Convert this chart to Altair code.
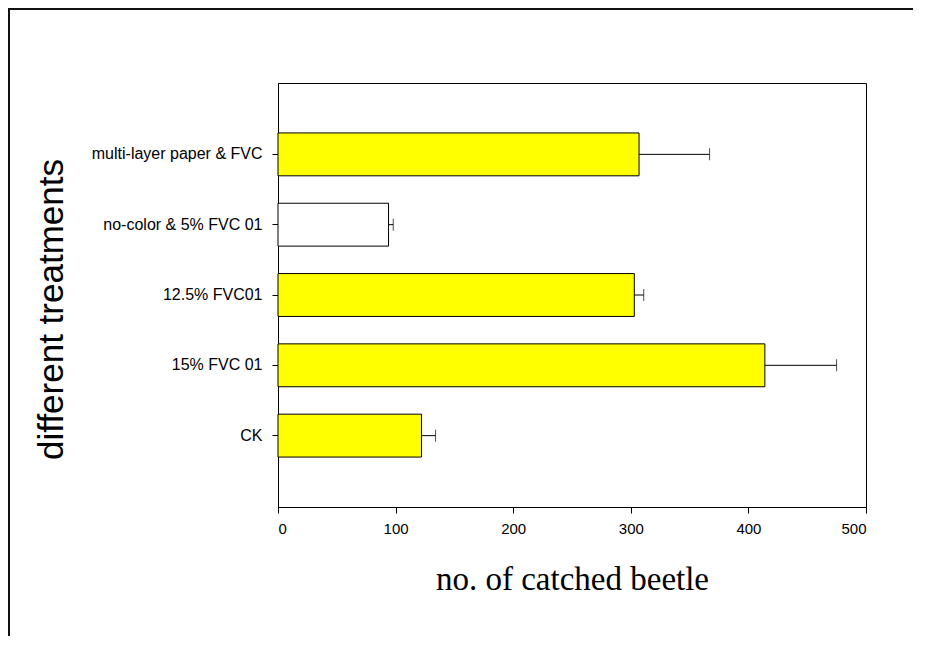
import altair as alt
import pandas as pd

categories = ["multi-layer paper & FVC\u00a0", "no-color & 5% FVC 01", "12.5% FVC01", "15% FVC 01", "CK"]
means = [307, 94, 303, 414, 122]
errors = [60, 4, 8, 61, 12]
x_ticks = [0, 100, 200, 300, 400, 500]

df = pd.DataFrame({"treatment": categories, "mean": means, "err": errors})
df["upper"] = df["mean"] + df["err"]

W, H = 588, 424

yenc = alt.Y(
    "treatment:N",
    sort=categories,
    scale=alt.Scale(paddingInner=0.39, paddingOuter=0.71),
    axis=alt.Axis(
        title="different treatments",
        labelFont="Liberation Sans", labelFontSize=16, labelColor="black",
        labelPadding=10, tickSize=6, tickColor="black", domainColor="black",
        titleFont="Liberation Sans", titleFontSize=35, titleFontWeight="normal",
        titleColor="black", titleAngle=270, titleAlign="center",
        titleBaseline="alphabetic", titleX=-216, titleY=226,
    ),
)

xscale = alt.Scale(domain=[0, 500], nice=False)
xaxis = alt.Axis(
    title="no. of catched beetle", values=x_ticks, grid=False,
    labelFont="Liberation Sans", labelFontSize=15, labelColor="black",
    labelPadding=8, tickSize=6, tickColor="black", domainColor="black",
    titleFont="Liberation Serif", titleFontSize=33, titleFontWeight="normal",
    titleColor="black", titlePadding=27,
)

base = alt.Chart(df)

bars = base.mark_bar(stroke="black", strokeWidth=1).encode(
    x=alt.X("mean:Q", scale=xscale, axis=xaxis),
    y=yenc,
    fill=alt.condition(
        alt.datum.treatment == "no-color & 5% FVC 01",
        alt.value("white"), alt.value("#ffff00"),
    ),
)

rules = base.mark_rule(color="black", strokeWidth=1).encode(
    x="mean:Q", x2="upper:Q", y=alt.Y("treatment:N", sort=categories),
)

caps = base.mark_tick(color="black", thickness=1, size=12).encode(
    x="upper:Q", y=alt.Y("treatment:N", sort=categories),
)

frame_data = alt.Data(values=[{}])
frame_left = alt.Chart(frame_data).mark_rule(
    color="#111", strokeWidth=2, clip=False
).encode(
    x=alt.value(-269), y=alt.value(-75), y2=alt.value(H + 300),
)
frame_top = alt.Chart(frame_data).mark_rule(
    color="#111", strokeWidth=2, clip=False
).encode(
    x=alt.value(-270), x2=alt.value(W + 200), y=alt.value(-74),
)

chart = alt.layer(frame_left, frame_top, bars, rules, caps).properties(
    width=W, height=H,
    background="white",
    autosize=alt.AutoSizeParams(type="none"),
    padding={"left": 270, "top": 75, "right": 47, "bottom": 129},
).configure_view(stroke="black", strokeWidth=1)

chart.save("out.html", embed_options={"renderer": "svg", "actions": False})
